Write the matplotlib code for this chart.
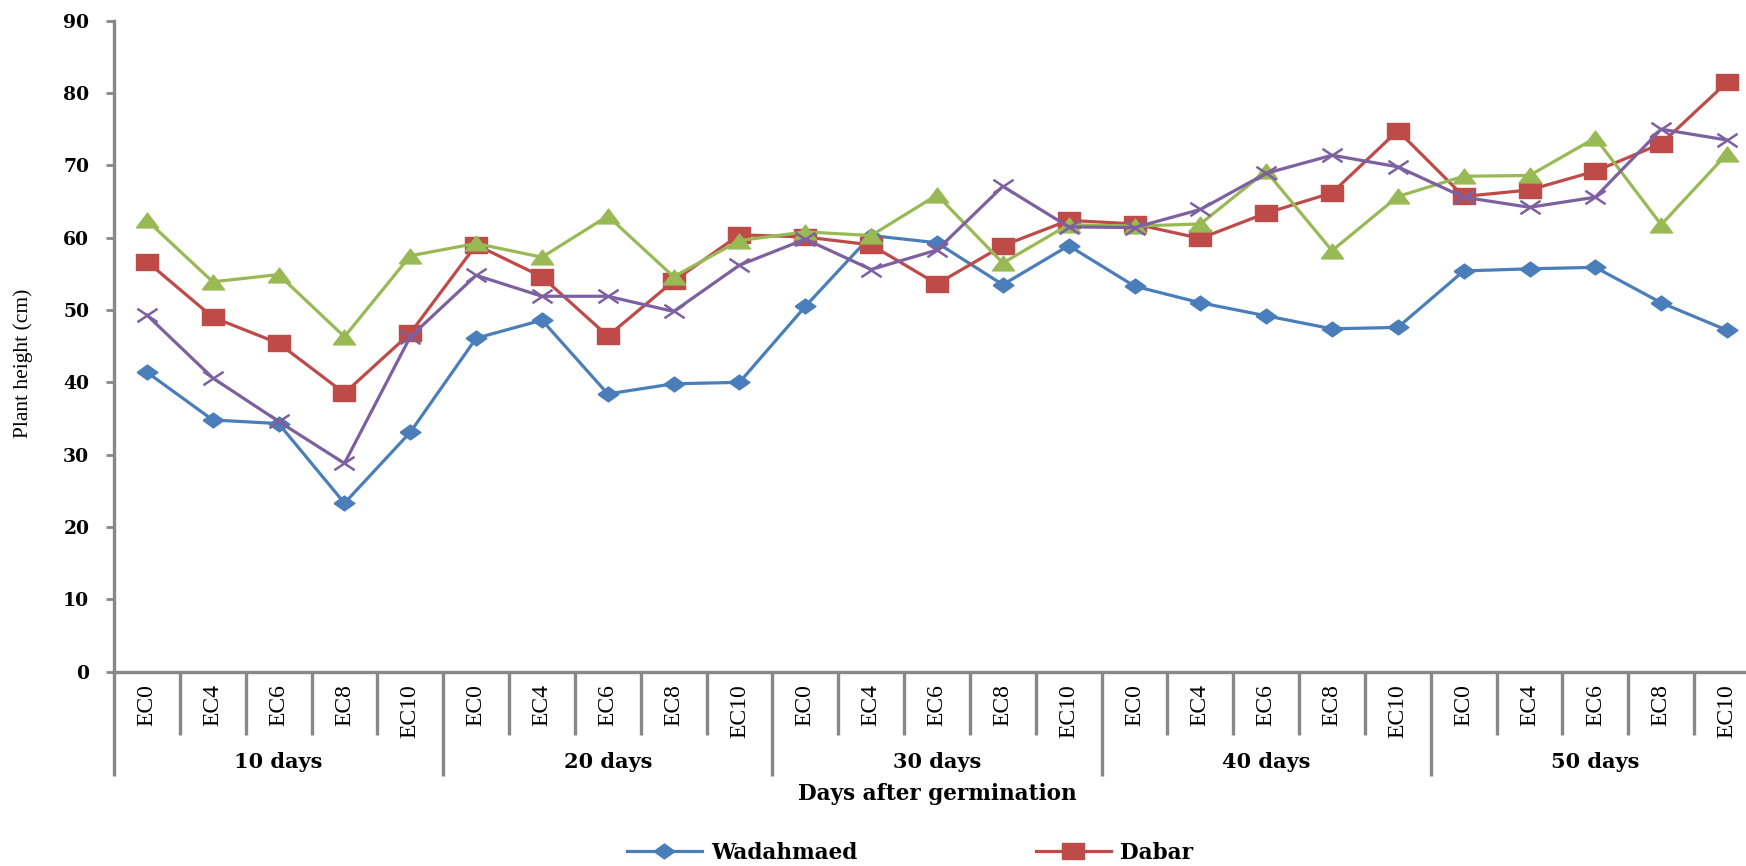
import matplotlib
matplotlib.use("Agg")
import matplotlib.pyplot as plt
from matplotlib.path import Path

# EC levels within each sampling date
ec_levels = ["EC0", "EC4", "EC6", "EC8", "EC10"]
day_groups = ["10 days", "20 days", "30 days", "40 days", "50 days"]

# plant height (cm), 5 EC levels x 5 dates, in date order
wadahmaed = [41.4, 34.8, 34.3, 23.3, 33.1,
             46.1, 48.6, 38.4, 39.8, 40.0,
             50.5, 60.3, 59.3, 53.5, 58.9,
             53.3, 51.0, 49.2, 47.4, 47.6,
             55.4, 55.7, 55.9, 51.0, 47.2]
dabar = [56.7, 49.0, 45.4, 38.5, 46.8,
         59.0, 54.6, 46.4, 54.0, 60.4,
         60.1, 59.0, 53.6, 58.9, 62.4,
         61.9, 59.9, 63.4, 66.2, 74.8,
         65.7, 66.6, 69.2, 73.0, 81.5]
third_variety = [62.4, 53.9, 54.9, 46.3, 57.5,
                 59.2, 57.3, 63.0, 54.6, 59.6,
                 60.8, 60.3, 65.9, 56.5, 61.8,
                 61.6, 61.9, 69.2, 58.2, 65.7,
                 68.5, 68.6, 73.8, 61.8, 71.6]
fourth_variety = [49.3, 40.6, 34.6, 28.8, 46.3,
                  54.8, 51.9, 51.9, 49.8, 56.2,
                  59.8, 55.6, 58.3, 67.1, 61.5,
                  61.4, 63.9, 68.9, 71.4, 69.8,
                  65.6, 64.2, 65.6, 75.0, 73.5]

BLUE, RED, GREEN, PURPLE = "#4A7EBB", "#BE4B48", "#98B954", "#7D60A0"
GREY = "#878787"

# markers are a bit wider than tall
diamond = [(-0.7, 0), (0, -0.5), (0.7, 0), (0, 0.5), (-0.7, 0)]
square = [(-0.72, -0.5), (0.72, -0.5), (0.72, 0.5), (-0.72, 0.5), (-0.72, -0.5)]
triangle = [(-0.75, -0.5), (0.75, -0.5), (0, 0.5), (-0.75, -0.5)]
cross = Path([(-0.75, -0.5), (0.75, 0.5), (-0.75, 0.5), (0.75, -0.5)],
             [Path.MOVETO, Path.LINETO, Path.MOVETO, Path.LINETO])

n_cat = len(ec_levels) * len(day_groups)
x = list(range(n_cat))

fig = plt.figure(figsize=(17.46, 8.66), dpi=100)
ax = fig.add_axes([0.0653, 0.2244, 0.9427, 0.7517])

l1, = ax.plot(x, wadahmaed, color=BLUE, lw=2.3, marker=diamond, ms=15,
              mfc=BLUE, mec=BLUE, label="Wadahmaed", zorder=3)
l2, = ax.plot(x, dabar, color=RED, lw=2.3, marker=square, ms=16,
              mfc=RED, mec=RED, label="Dabar", zorder=4)
ax.plot(x, third_variety, color=GREEN, lw=2.3, marker=triangle, ms=16,
        mfc=GREEN, mec=GREEN, zorder=5)
ax.plot(x, fourth_variety, color=PURPLE, lw=2.3, marker=cross, ms=14.5,
        mfc="none", mec=PURPLE, mew=1.8, zorder=6)

ax.set_xlim(-0.5, n_cat - 0.5)
ax.set_ylim(0, 90)
ax.set_yticks(range(0, 91, 10))

for s in ["top", "right"]:
    ax.spines[s].set_visible(False)
for s in ["left", "bottom"]:
    ax.spines[s].set_color(GREY)
    ax.spines[s].set_linewidth(2.4)

ax.tick_params(axis="y", direction="out", length=5.8, width=2, color=GREY,
               pad=12)

# category labels under the axis
ax.set_xticks(x)
ax.set_xticklabels(ec_levels * len(day_groups))
ax.tick_params(axis="x", length=0, pad=9)

for lab in ax.get_yticklabels():
    lab.set_fontfamily("DejaVu Serif")
    lab.set_fontweight("bold")
    lab.set_fontsize(13.5)
for lab in ax.get_xticklabels():
    lab.set_fontfamily("Liberation Serif")
    lab.set_fontsize(17)
    lab.set_rotation(90)

# separators between categories and between date groups
xt = ax.get_xaxis_transform()
for b in range(n_cat + 1):
    bx = b - 0.5
    low = -0.16 if b % len(ec_levels) == 0 else -0.098
    ax.plot([bx, bx], [0, low], transform=xt, color=GREY, lw=2.4,
            clip_on=False, solid_capstyle="butt")

for g, name in enumerate(day_groups):
    cx = g * len(ec_levels) + (len(ec_levels) - 1) / 2
    ax.text(cx, -0.139, name, transform=xt, ha="center", va="center",
            family="DejaVu Serif", fontweight="bold", fontsize=15)

ax.text(0.5, -0.188, "Days after germination", transform=ax.transAxes,
        ha="center", va="center", family="DejaVu Serif", fontweight="bold",
        fontsize=15.5)

ax.set_ylabel("Plant height (cm)", family="Liberation Serif", fontsize=15.5)
ax.yaxis.set_label_coords(-0.0495, 0.473)

fig.legend(handles=[l1, l2], loc="center left",
           bbox_to_anchor=(0.359, 0.015), ncol=2, frameon=False,
           borderpad=0, borderaxespad=0, handlelength=3.5, handletextpad=0.4,
           columnspacing=8.3,
           prop={"family": "DejaVu Serif", "weight": "bold", "size": 15.5})

fig.savefig("out.png", dpi=100)
